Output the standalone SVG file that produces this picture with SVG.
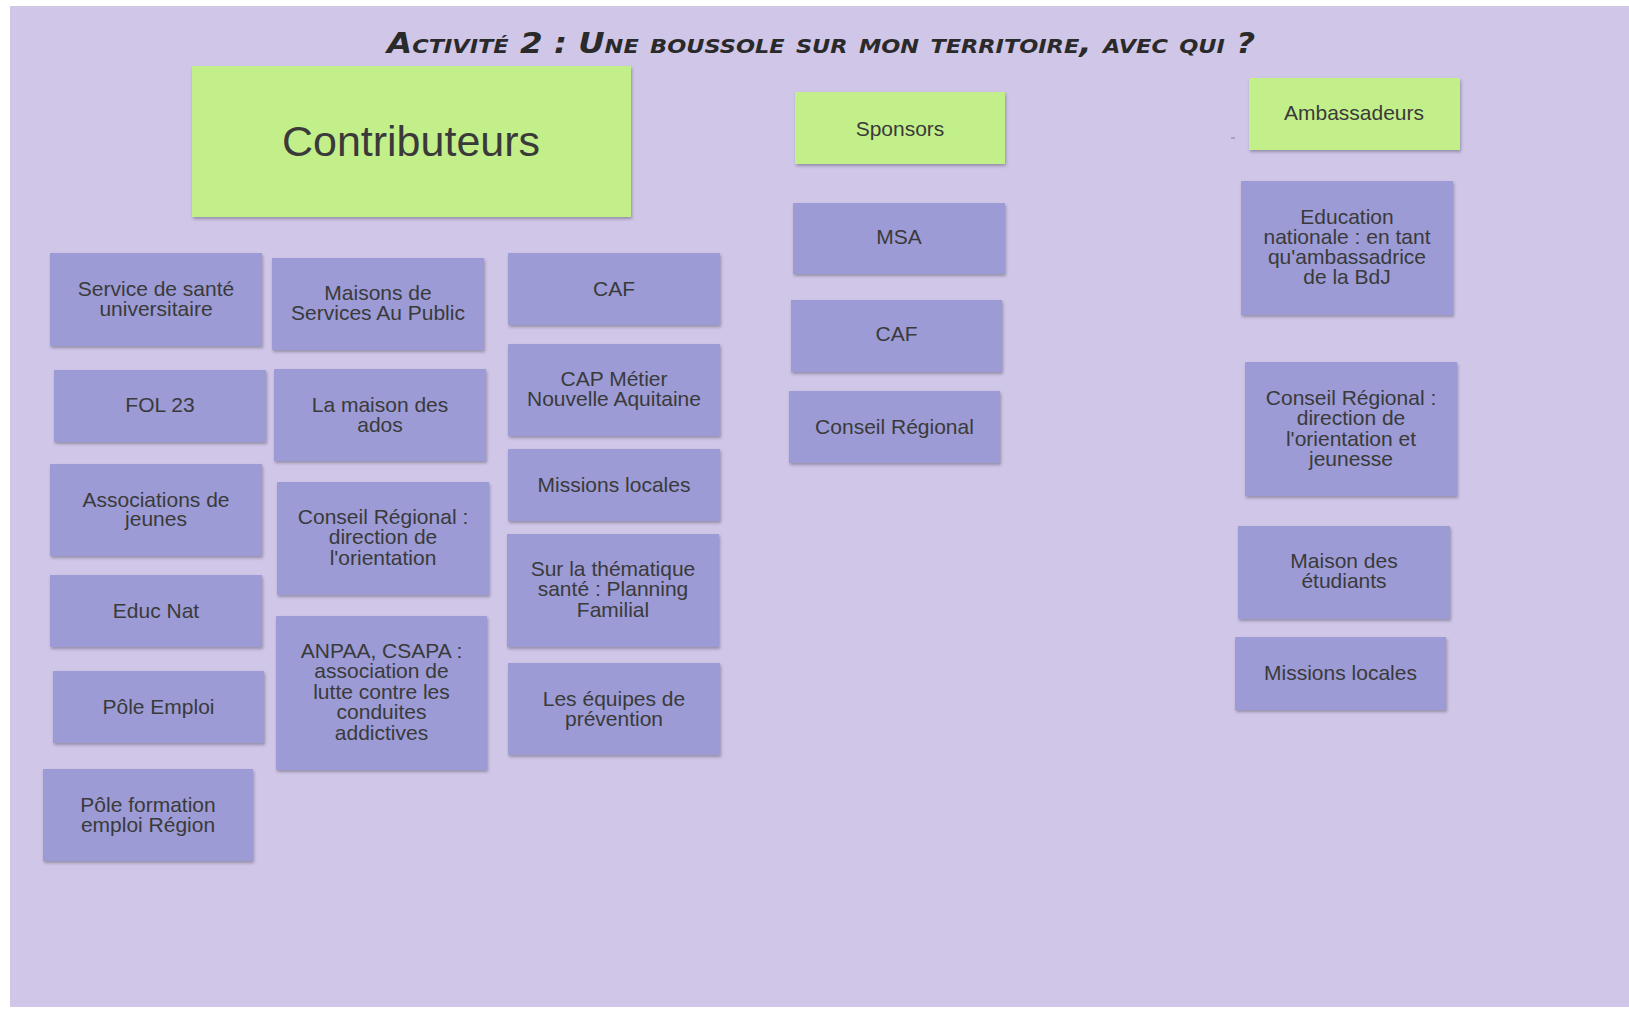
<svg xmlns="http://www.w3.org/2000/svg" width="1629" height="1009" viewBox="0 0 1629 1009">
<defs>
<filter id="sh" x="-10%" y="-10%" width="125%" height="130%">
<feDropShadow dx="1" dy="2" stdDeviation="1.8" flood-color="#000" flood-opacity="0.28"/>
</filter>
</defs>
<style>
.g{fill:#c3ef8b;filter:url(#sh)}
.p{fill:#9c9bd5;filter:url(#sh)}
.t{font-family:"Liberation Sans",Arial,sans-serif;font-size:21px;fill:#3a3a3a;text-anchor:middle}
.big{font-size:43px}
.title{font-family:"DejaVu Sans",sans-serif;font-weight:bold;font-style:italic;font-variant:small-caps;font-size:29px;fill:#2a2a2a;text-anchor:middle}
</style>
<rect x="0" y="0" width="1629" height="1009" fill="#ffffff"/>
<rect x="10" y="6" width="1619" height="1001" fill="#cfc6e8"/>
<text class="title" x="821" y="53" textLength="868" lengthAdjust="spacingAndGlyphs">Activité 2 : Une boussole sur mon territoire, avec qui ?</text>
<rect x="1231" y="137" width="4" height="2" fill="#a9a1c2"/>
<g id="connectors"></g>

<g id="contributeurs"><rect class="g" x="192" y="66" width="439" height="151"/><text class="t big" x="411" y="155.5">Contributeurs</text></g>
<g id="sponsors"><rect class="g" x="795" y="92" width="210" height="72"/><text class="t" x="900" y="135.5">Sponsors</text></g>
<g id="ambassadeurs"><rect class="g" x="1249" y="78" width="211" height="72"/><text class="t" x="1354" y="119.5">Ambassadeurs</text></g>

<g id="c1-sante"><rect class="p" x="50" y="253" width="212" height="93"/><text class="t" x="156" y="296">Service de santé</text><text class="t" x="156" y="315.5">universitaire</text></g>
<g id="c1-fol"><rect class="p" x="54" y="370" width="212" height="72"/><text class="t" x="160" y="411.5">FOL 23</text></g>
<g id="c1-assoc"><rect class="p" x="50" y="464" width="212" height="92"/><text class="t" x="156" y="506.5">Associations de</text><text class="t" x="156" y="526">jeunes</text></g>
<g id="c1-educ"><rect class="p" x="50" y="575" width="212" height="72"/><text class="t" x="156" y="617.5">Educ Nat</text></g>
<g id="c1-pole"><rect class="p" x="53" y="671" width="211" height="72"/><text class="t" x="158.5" y="713.5">Pôle Emploi</text></g>
<g id="c1-formation"><rect class="p" x="43" y="769" width="210" height="92"/><text class="t" x="148" y="811.5">Pôle formation</text><text class="t" x="148" y="832">emploi Région</text></g>

<g id="c2-msap"><rect class="p" x="272" y="258" width="212" height="92"/><text class="t" x="378" y="299.5">Maisons de</text><text class="t" x="378" y="319.5">Services Au Public</text></g>
<g id="c2-ados"><rect class="p" x="274" y="369" width="212" height="92"/><text class="t" x="380" y="411.5">La maison des</text><text class="t" x="380" y="432">ados</text></g>
<g id="c2-conseil"><rect class="p" x="277" y="482" width="212" height="113"/><text class="t" x="383" y="523.5">Conseil Régional :</text><text class="t" x="383" y="544">direction de</text><text class="t" x="383" y="564.5">l'orientation</text></g>
<g id="c2-anpaa"><rect class="p" x="276" y="616" width="211" height="154"/><text class="t" x="381.5" y="657.5">ANPAA, CSAPA :</text><text class="t" x="381.5" y="678">association de</text><text class="t" x="381.5" y="698.5">lutte contre les</text><text class="t" x="381.5" y="719">conduites</text><text class="t" x="381.5" y="739.5">addictives</text></g>

<g id="c3-caf"><rect class="p" x="508" y="253" width="212" height="72"/><text class="t" x="614" y="295.5">CAF</text></g>
<g id="c3-cap"><rect class="p" x="508" y="344" width="212" height="92"/><text class="t" x="614" y="385.5">CAP Métier</text><text class="t" x="614" y="405.5">Nouvelle Aquitaine</text></g>
<g id="c3-missions"><rect class="p" x="508" y="449" width="212" height="72"/><text class="t" x="614" y="491.5">Missions locales</text></g>
<g id="c3-planning"><rect class="p" x="507" y="534" width="212" height="113"/><text class="t" x="613" y="575.5">Sur la thématique</text><text class="t" x="613" y="596">santé : Planning</text><text class="t" x="613" y="616.5">Familial</text></g>
<g id="c3-prevention"><rect class="p" x="508" y="663" width="212" height="92"/><text class="t" x="614" y="705.5">Les équipes de</text><text class="t" x="614" y="725.5">prévention</text></g>

<g id="s-msa"><rect class="p" x="793" y="203" width="212" height="71"/><text class="t" x="899" y="243.5">MSA</text></g>
<g id="s-caf"><rect class="p" x="791" y="300" width="211" height="72"/><text class="t" x="896.5" y="340.5">CAF</text></g>
<g id="s-conseil"><rect class="p" x="789" y="391" width="211" height="72"/><text class="t" x="894.5" y="433.5">Conseil Régional</text></g>

<g id="a-educ"><rect class="p" x="1241" y="181" width="212" height="134"/><text class="t" x="1347" y="223.5">Education</text><text class="t" x="1347" y="243.5">nationale : en tant</text><text class="t" x="1347" y="264">qu'ambassadrice</text><text class="t" x="1347" y="283.5">de la BdJ</text></g>
<g id="a-conseil"><rect class="p" x="1245" y="362" width="212" height="134"/><text class="t" x="1351" y="404.5">Conseil Régional :</text><text class="t" x="1351" y="425">direction de</text><text class="t" x="1351" y="445.5">l'orientation et</text><text class="t" x="1351" y="465.5">jeunesse</text></g>
<g id="a-maison"><rect class="p" x="1238" y="526" width="212" height="93"/><text class="t" x="1344" y="567.5">Maison des</text><text class="t" x="1344" y="587.5">étudiants</text></g>
<g id="a-missions"><rect class="p" x="1235" y="637" width="211" height="73"/><text class="t" x="1340.5" y="679.5">Missions locales</text></g>
</svg>
